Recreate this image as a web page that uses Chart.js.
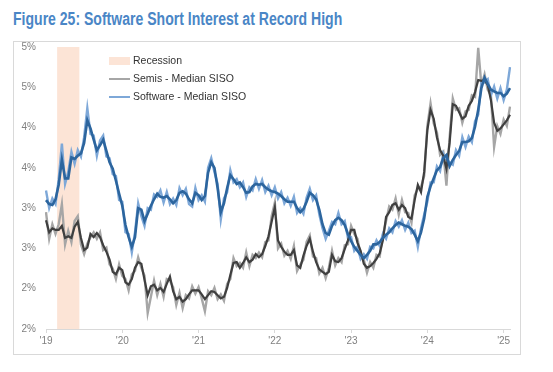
<!DOCTYPE html>
<html>
<head>
<meta charset="utf-8">
<script src="https://cdn.jsdelivr.net/npm/chart.js@4.4.1/dist/chart.umd.min.js"></script>
<style>
  body { margin: 0; background: #fff; }
  #wrap { position: relative; width: 553px; height: 372px; overflow: hidden; }
  #title { position: absolute; left: 13px; top: 9px; font-family: "Liberation Sans Narrow", "Arial Narrow", "Liberation Sans", Arial, sans-serif; font-weight: bold; font-size: 18px; color: #4a86c6; white-space: nowrap; transform: scaleX(0.78); transform-origin: 0 0; }
  #box { position: absolute; left: 13px; top: 41px; width: 506px; height: 312px; border: 1px solid #d9d9d9; }
  #chart { position: absolute; left: 0; top: 0; }
  .leg { position: absolute; left: 109px; font-family: "Liberation Sans", Arial, sans-serif; font-size: 10.5px; color: #333; white-space: nowrap; }
  .leg span { display: inline-block; vertical-align: middle; margin-right: 3px; }
</style>
</head>
<body>
<div id="wrap">
  <div id="title">Figure 25: Software Short Interest at Record High</div>
  <div id="box"></div>
  <canvas id="chart" width="553" height="372"></canvas>
  <div class="leg" style="top:54px"><span style="width:21px;height:8px;background:#fce4d6"></span>Recession</div>
  <div class="leg" style="top:72px"><span style="width:21px;height:2px;background:#a6a6a6"></span>Semis - Median SISO</div>
  <div class="leg" style="top:90px"><span style="width:21px;height:2px;background:#7ea8d8"></span>Software - Median SISO</div>
</div>
<script>
// semi-monthly observations, Jan 2019 .. Jan 2025
const periods = [];
for (let y = 2019; periods.length < 147; y++) {
  for (let m = 1; m <= 12; m++) {
    for (const d of ['01', '16']) {
      if (periods.length < 147) periods.push(y + '-' + String(m).padStart(2, '0') + '-' + d);
    }
  }
}

const recessionStart = '2019-03-01';
const recessionEnd = '2019-06-01';

const yearTicks = ['2019-01-01', '2020-01-01', '2021-01-01', '2022-01-01', '2023-01-01', '2024-01-01', '2025-01-01'];
const xTickLabels = ["'19", "'20", "'21", "'22", "'23", "'24", "'25"];
const yTickLabels = ['2%', '2%', '3%', '3%', '4%', '4%', '5%', '5%'];

// Semis - median SISO (smoothed, dark) and raw (light)
const semisSmooth = [3.35,3.20,3.25,3.23,3.23,3.28,3.13,3.15,3.13,3.27,3.33,3.13,2.98,3.01,3.18,3.14,3.19,3.14,3.04,2.96,2.86,2.71,2.68,2.76,
  2.73,2.58,2.55,2.62,2.76,2.83,2.81,2.61,2.42,2.53,2.55,2.48,2.51,2.46,2.56,2.65,2.47,2.37,2.40,2.34,2.37,2.43,2.48,2.48,
  2.48,2.43,2.37,2.42,2.47,2.46,2.42,2.38,2.40,2.51,2.67,2.82,2.83,2.76,2.82,2.89,2.83,2.86,2.93,2.89,2.93,3.03,3.15,3.33,
  3.51,3.10,3.02,2.96,2.92,2.92,2.98,2.79,2.76,2.91,3.03,3.12,2.96,2.83,2.74,2.71,2.68,2.71,2.92,2.84,2.83,2.88,2.99,3.10,
  3.23,3.23,3.07,2.97,2.81,2.76,2.78,2.82,2.87,2.94,3.10,3.39,3.45,3.54,3.56,3.48,3.54,3.50,3.39,3.37,3.60,3.79,3.70,3.95,
  4.47,4.72,4.61,4.38,4.22,4.15,3.99,4.31,4.79,4.77,4.69,4.61,4.64,4.77,4.83,4.94,5.09,5.08,5.09,5.03,4.84,4.56,4.46,4.49,
  4.54,4.59,4.66];
const semisRaw = [3.45,3.12,3.30,3.18,3.30,3.55,3.05,3.22,3.08,3.34,3.40,3.05,2.93,3.06,3.14,3.20,3.12,3.20,2.98,3.01,2.80,2.75,2.62,2.80,
  2.66,2.62,2.48,2.68,2.72,2.89,2.76,2.66,2.20,2.40,2.60,2.42,2.56,2.40,2.62,2.60,2.52,2.30,2.45,2.26,2.42,2.38,2.53,2.44,
  2.52,2.38,2.22,2.47,2.42,2.51,2.37,2.43,2.35,2.56,2.62,2.88,2.78,2.82,2.76,2.95,2.78,2.92,2.88,2.95,2.89,3.08,3.10,3.40,
  3.57,3.00,3.06,2.91,2.97,2.87,3.03,2.72,2.80,2.86,3.08,3.16,2.90,2.88,2.69,2.76,2.63,2.76,2.97,2.79,2.88,2.83,3.04,3.05,
  3.28,3.18,3.12,2.92,2.86,2.70,2.83,2.76,2.92,2.90,3.16,3.34,3.52,3.48,3.62,3.42,3.60,3.45,3.44,3.32,3.66,3.74,3.76,3.90,
  4.52,4.80,4.55,4.44,4.16,4.20,3.78,4.38,4.86,4.72,4.74,4.56,4.70,4.72,4.90,4.88,5.49,5.02,5.16,4.97,4.90,4.26,4.52,4.42,
  4.60,4.52,4.76];

// Software - median SISO (smoothed, dark) and raw (light)
const softwareSmooth = [3.60,3.55,3.54,3.61,3.79,4.10,3.87,3.87,4.13,4.11,4.15,4.18,4.31,4.59,4.49,4.35,4.22,4.28,4.35,4.21,4.07,3.99,3.84,3.68,
  3.53,3.29,3.14,3.02,3.14,3.50,3.48,3.34,3.43,3.53,3.61,3.68,3.64,3.63,3.65,3.61,3.56,3.60,3.69,3.71,3.68,3.61,3.56,3.69,
  3.66,3.60,3.65,3.94,4.07,4.00,3.75,3.45,3.56,3.75,3.91,3.86,3.80,3.82,3.76,3.69,3.70,3.77,3.80,3.79,3.80,3.76,3.73,3.71,
  3.70,3.68,3.65,3.61,3.58,3.58,3.58,3.50,3.45,3.49,3.58,3.69,3.66,3.61,3.48,3.30,3.19,3.17,3.28,3.35,3.38,3.35,3.29,3.18,
  3.09,3.02,2.97,2.92,2.88,2.92,2.97,3.05,3.05,3.08,3.13,3.17,3.20,3.25,3.29,3.32,3.30,3.28,3.27,3.24,3.17,3.09,3.20,3.37,
  3.64,3.77,3.87,3.97,4.01,4.12,4.16,4.02,4.10,4.16,4.21,4.32,4.32,4.33,4.37,4.51,4.72,4.99,5.12,5.04,4.97,4.95,4.93,4.93,
  4.89,4.92,4.99];
const softwareRaw = [3.72,3.50,3.62,3.55,3.86,4.30,3.80,3.95,4.20,4.05,4.22,4.14,4.38,4.74,4.42,4.40,4.15,4.34,4.40,4.14,4.12,3.92,3.90,3.60,
  3.58,3.20,3.18,2.95,3.20,3.56,3.40,3.28,3.50,3.48,3.67,3.64,3.72,3.57,3.70,3.55,3.62,3.54,3.75,3.66,3.74,3.55,3.52,3.75,
  3.60,3.66,3.58,4.00,4.12,3.95,3.80,3.36,3.62,3.70,3.97,3.82,3.86,3.76,3.82,3.64,3.76,3.72,3.86,3.74,3.85,3.70,3.78,3.66,
  3.76,3.62,3.70,3.56,3.63,3.53,3.64,3.44,3.50,3.43,3.63,3.74,3.60,3.66,3.42,3.25,3.12,3.22,3.33,3.30,3.44,3.30,3.34,3.13,
  3.14,2.97,3.02,2.87,2.93,2.87,3.02,3.00,3.10,3.03,3.18,3.12,3.25,3.20,3.34,3.27,3.35,3.23,3.32,3.19,3.22,3.02,3.25,3.42,
  3.58,3.82,3.82,4.02,3.96,4.18,4.10,4.07,4.04,4.22,4.15,4.38,4.26,4.39,4.32,4.58,4.66,5.06,5.06,5.10,4.90,5.01,4.86,4.99,
  4.84,4.97,5.25];

const recessionShade = {
  id: 'recessionShade',
  beforeDatasetsDraw(chart) {
    const x = chart.scales.x;
    const area = chart.chartArea;
    const step = x.getPixelForValue(1) - x.getPixelForValue(0);
    const left = x.getPixelForValue(periods.indexOf(recessionStart)) - step / 2;
    const right = x.getPixelForValue(periods.indexOf(recessionEnd)) + step / 2;
    const c = chart.ctx;
    c.save();
    c.fillStyle = '#fce4d6';
    c.fillRect(left, area.top, right - left, area.bottom - area.top);
    c.restore();
  }
};

function line(data, color, width, order) {
  return { data: data, borderColor: color, borderWidth: width, pointRadius: 0, tension: 0, fill: false, order: order };
}

new Chart(document.getElementById('chart'), {
  type: 'line',
  data: {
    labels: periods,
    datasets: [
      line(semisRaw, '#a6a6a6', 2.4, 4),
      line(softwareRaw, '#7ea8d8', 2.4, 3),
      line(semisSmooth, '#3f3f3f', 2.2, 2),
      line(softwareSmooth, '#2c659e', 2.6, 1)
    ]
  },
  options: {
    responsive: false,
    animation: false,
    layout: { padding: { left: 0, right: 43, top: 47, bottom: 23 } },
    plugins: { legend: { display: false }, tooltip: { enabled: false } },
    scales: {
      x: {
        type: 'category',
        offset: false,
        afterBuildTicks: (axis) => { axis.ticks = yearTicks.map(d => ({ value: periods.indexOf(d) })); },
        afterFit: (axis) => { axis.height = 20; },
        border: { display: true, color: '#d9d9d9', width: 1 },
        grid: { display: true, drawOnChartArea: false, drawTicks: true, tickLength: 4, color: '#d9d9d9' },
        ticks: {
          autoSkip: false, maxRotation: 0, padding: 2, color: '#808080',
          font: { family: 'Liberation Sans', size: 10 },
          callback: (v) => xTickLabels[yearTicks.indexOf(periods[v])]
        }
      },
      y: {
        min: 2, max: 5.5,
        afterFit: (axis) => { axis.width = 46; },
        border: { display: false },
        grid: { display: false, drawTicks: false },
        ticks: {
          stepSize: 0.5, padding: 10, color: '#808080',
          font: { family: 'Liberation Sans', size: 10 },
          callback: (v, i) => yTickLabels[i]
        }
      }
    }
  },
  plugins: [recessionShade]
});
</script>
</body>
</html>
